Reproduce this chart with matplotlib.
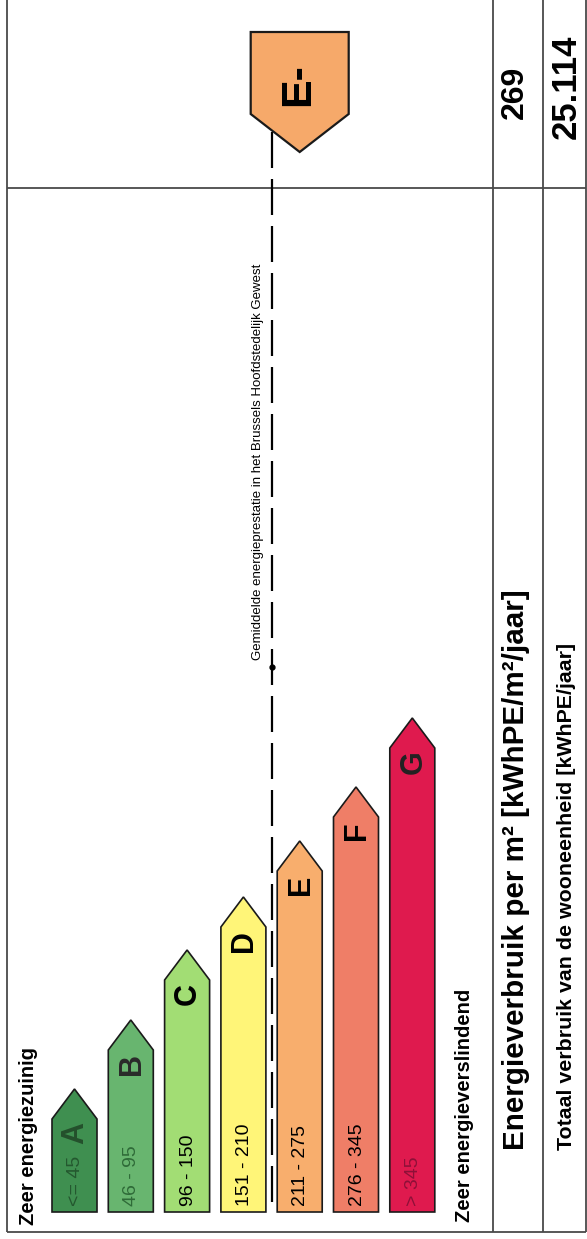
import matplotlib
matplotlib.use("Agg")
import matplotlib.pyplot as plt
from matplotlib.patches import Polygon

plt.rcParams['font.family'] = ['Liberation Sans', 'DejaVu Sans']

classes   = ['A', 'B', 'C', 'D', 'E', 'F', 'G']
ranges    = ['<= 45', '46 - 95', '96 - 150', '151 - 210', '211 - 275', '276 - 345', '> 345']
bar_len   = [123, 192, 262, 315, 371, 425, 494]   # arrow length per class
fills     = ['#3f8f50', '#68b56f', '#a2dd74', '#fff578', '#f8ae6d', '#ef7e67', '#df1a4e']
range_col = ['#24582f', '#2f6b38', 'k', 'k', 'k', 'k', '#8e1038']
letter_col = ['#24502c', '#2a2a2a', 'k', 'k', 'k', 'k', '#222222']

rating      = 'E-'
rating_cls  = 'E'
kwh_m2      = '269'
kwh_total   = '25.114'
avg_between = ('D', 'E')   # brussels average sits between these classes

# layout (pixels)
W, H = 587, 1239
x0, pitch, bw = 52, 56.3, 45
base = 1212
head = 30

fig = plt.figure(figsize=(W / 100, H / 100), dpi=100)
ax = fig.add_axes([0, 0, 1, 1])
ax.set_xlim(0, W)
ax.set_ylim(H, 0)
ax.axis('off')

grid = dict(color='#4a4a4a', lw=1.3, solid_capstyle='butt')
ax.plot([7, 7], [0, 1232], **grid)
ax.plot([7, 586], [1232, 1232], **grid)
ax.plot([586, 586], [0, 1232], **grid)
ax.plot([7, 586], [188, 188], **grid)
ax.plot([493, 493], [0, 1232], **grid)
ax.plot([543, 543], [0, 1232], **grid)

# class arrows
centers = {}
for i, (c, r, L, fc) in enumerate(zip(classes, ranges, bar_len, fills)):
    left = x0 + i * pitch
    cx = left + bw / 2
    centers[c] = (left, cx)
    top = base - L
    pts = [(left, base), (left, top + head), (cx, top),
           (left + bw, top + head), (left + bw, base)]
    ax.add_patch(Polygon(pts, closed=True, fc=fc, ec='#1a1a1a', lw=1.2, zorder=3))
    ax.text(cx + 1, top + head + 14, c, rotation=90, rotation_mode='anchor',
            ha='center', va='center', fontsize=22, fontweight='bold',
            color=letter_col[i], zorder=4)
    ax.text(cx + 1, base - 6, r, rotation=90, rotation_mode='anchor',
            ha='left', va='center', fontsize=14, color=range_col[i], zorder=4)

# brussels average dashed line
d_left, _ = centers[avg_between[0]]
e_left, _ = centers[avg_between[1]]
avg_x = (d_left + bw + e_left) / 2
ax.plot([avg_x, avg_x], [132, base], color='k', lw=1.6,
        dashes=(36 / 1.6 * 0.72, 11 / 1.6 * 0.72), zorder=2)
ax.plot([avg_x], [667], 'o', color='k', ms=3.5, zorder=3)
ax.text(avg_x - 14, 660, 'Gemiddelde energieprestatie in het Brussels Hoofdstedelijk Gewest',
        rotation=90, rotation_mode='anchor', ha='left', va='center', fontsize=9.5)

# rating marker
_, mx = centers[rating_cls]
mpts = [(mx - 49, 32), (mx + 49, 32), (mx + 49, 114), (mx, 152), (mx - 49, 114)]
ax.add_patch(Polygon(mpts, closed=True, fc='#f6a96a', ec='#1a1a1a', lw=1.6, zorder=3))
ax.text(mx - 2, 85, rating, rotation=90, rotation_mode='anchor',
        ha='center', va='center', fontsize=31, fontweight='bold', zorder=4)

# side texts
ax.text(28, 1225, 'Zeer energiezuinig', rotation=90, rotation_mode='anchor',
        ha='left', va='center', fontsize=14.5, fontweight='bold')
ax.text(464, 1222, 'Zeer energieverslindend', rotation=90, rotation_mode='anchor',
        ha='left', va='center', fontsize=14.5, fontweight='bold')

ax.text(516, 1150, 'Energieverbruik per m² [kWhPE/m²/jaar]', rotation=90,
        rotation_mode='anchor', ha='left', va='center', fontsize=21.3, fontweight='bold')
ax.text(566, 1150, 'Totaal verbruik van de wooneenheid [kWhPE/jaar]', rotation=90,
        rotation_mode='anchor', ha='left', va='center', fontsize=15.4, fontweight='bold')

ax.text(515, 92, kwh_m2, rotation=90, rotation_mode='anchor',
        ha='center', va='center', fontsize=23, fontweight='bold')
ax.text(566, 87, kwh_total, rotation=90, rotation_mode='anchor',
        ha='center', va='center', fontsize=25, fontweight='bold')

fig.savefig('out.png', dpi=100)
